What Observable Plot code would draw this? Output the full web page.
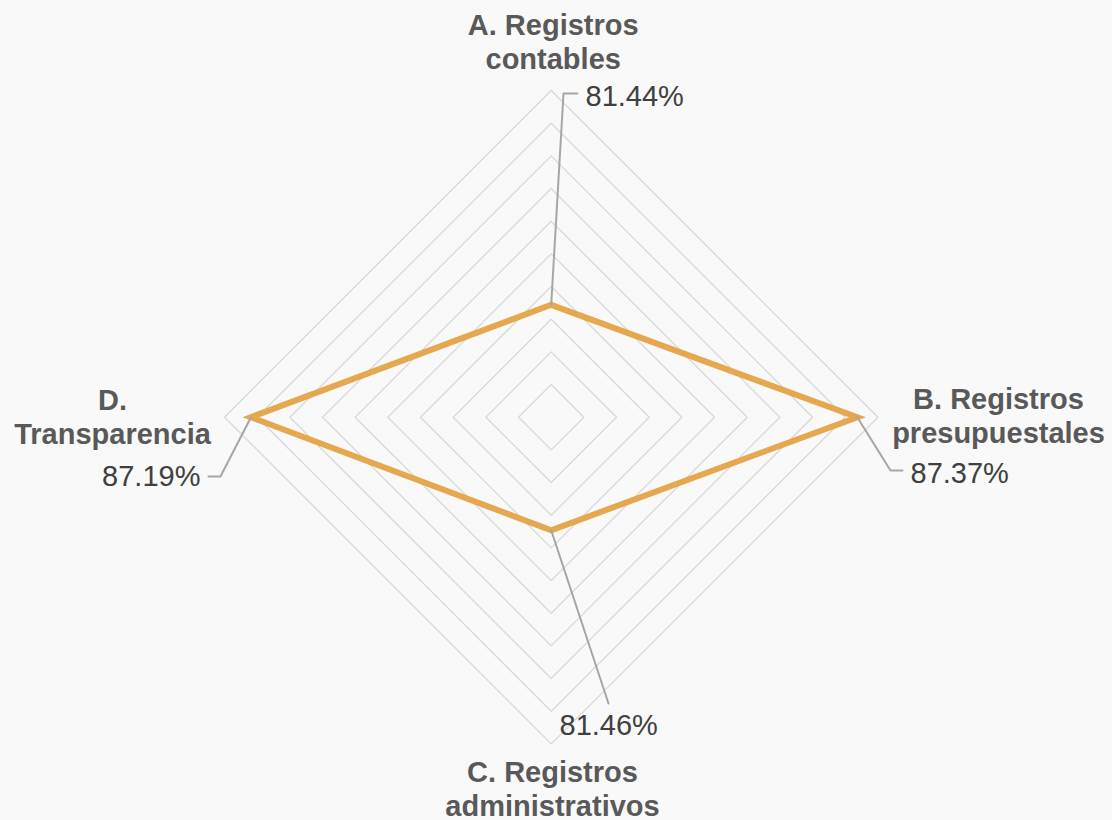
<!DOCTYPE html>
<html><head><meta charset="utf-8">
<script src="https://cdn.jsdelivr.net/npm/d3@7"></script>
<script src="https://cdn.jsdelivr.net/npm/@observablehq/plot@0.6"></script>
<style>
html,body{margin:0;padding:0;background:#f9f9f9;}
#chart svg{display:block;}
</style>
</head><body><div id="chart"></div>
<script>
// ---- data ----
const categories = ["A. Registros\ncontables", "B. Registros\npresupuestales", "C. Registros\nadministrativos", "D.\nTransparencia"];
const values = [81.44, 87.37, 81.46, 87.19];
const valueLabels = ["81.44%", "87.37%", "81.46%", "87.19%"];
const ringTicks = [79, 80, 81, 82, 83, 84, 85, 86, 87, 88];
const axisMin = 78, axisMax = 88;

// ---- layout ----
const W = 1112, H = 820;
const cx = 550.7, cy = 416.7, R = 326.7;
const angles = categories.map((_, i) => (i * 2 * Math.PI) / categories.length);
const rad = v => (v - axisMin) / (axisMax - axisMin);
const pt = (r, a) => ({x: r * Math.sin(a), y: r * Math.cos(a)});

// rings
const ringData = [];
ringTicks.forEach(t => {
  [...angles, angles[0]].forEach(a => ringData.push({ring: t, ...pt(rad(t), a)}));
});
// series (closed)
const seriesData = [...values, values[0]].map((v, i) => pt(rad(v), angles[i % angles.length]));

// label placement (pixel offsets)
const axisLabelStyle = [
  {dx: 2, dy: -22, anchor: "middle"},
  {dx: 120.6, dy: 25.3, anchor: "middle"},
  {dx: 1.3, dy: 71.6, anchor: "middle"},
  {dx: -112, dy: 26.3, anchor: "middle"}
];
const valueLabelStyle = [
  {dx: 34.3, dy: -199.3, anchor: "start"},
  {dx: 53.2, dy: 65.3, anchor: "start"},
  {dx: 8.3, dy: 204.3, anchor: "start"},
  {dx: -50.5, dy: 68.3, anchor: "end"}
];
const leaderOffsets = [
  [[0, 0], [12.3, -211.3], [26.3, -211.3]],
  [[0, 0], [33.2, 53.3], [45.2, 53.3]],
  [[0, 0], [57.3, 173.3]],
  [[0, 0], [-30.5, 59.3], [-42.5, 59.3]]
];
const leaderData = [];
values.forEach((v, i) => {
  const p = pt(rad(v), angles[i]);
  leaderOffsets[i].forEach(([ox, oy]) => leaderData.push({k: i, x: p.x + ox / R, y: p.y - oy / R}));
});

const font = "'Liberation Sans', Arial, sans-serif";
const marks = [
  Plot.line(ringData, {x: "x", y: "y", z: "ring", stroke: "#d9d9d9", strokeWidth: 1.3}),
  Plot.line(seriesData, {x: "x", y: "y", stroke: "#e6a84e", strokeWidth: 6, strokeLinejoin: "miter", strokeMiterlimit: 10}),
  Plot.line(leaderData, {x: "x", y: "y", z: "k", stroke: "#a6a6a6", strokeWidth: 2})
];
categories.forEach((c, i) => {
  const p = pt(1, angles[i]);
  const s = axisLabelStyle[i];
  marks.push(Plot.text([{...p, t: c}], {x: "x", y: "y", text: "t", dx: s.dx, dy: s.dy, textAnchor: s.anchor,
    lineAnchor: "bottom", lineHeight: 1.14, fontSize: 29, fontWeight: "bold", fill: "#595959", fontFamily: font}));
});
values.forEach((v, i) => {
  const p = pt(rad(v), angles[i]);
  const s = valueLabelStyle[i];
  marks.push(Plot.text([{...p, t: valueLabels[i]}], {x: "x", y: "y", text: "t", dx: s.dx, dy: s.dy, textAnchor: s.anchor,
    lineAnchor: "bottom", fontSize: 29, fill: "#404040", fontFamily: font}));
});

const chart = Plot.plot({
  width: W, height: H, margin: 0,
  x: {domain: [-cx / R, (W - cx) / R], axis: null},
  y: {domain: [-(H - cy) / R, cy / R], axis: null},
  style: {background: "#f9f9f9", fontFamily: font},
  marks
});
document.getElementById("chart").append(chart);
</script>
</body></html>
